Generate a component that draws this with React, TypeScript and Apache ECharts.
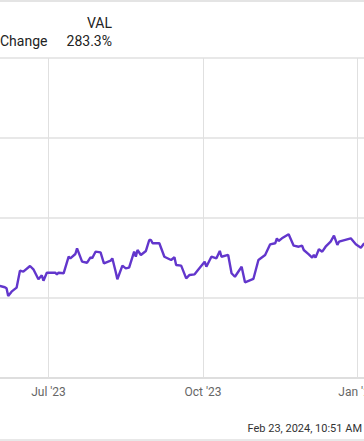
import React, { useEffect, useRef } from "react";
import * as echarts from "echarts";

const dates = [
  "2023-06-02", "2023-06-05", "2023-06-06", "2023-06-07", "2023-06-09", "2023-06-12",
  "2023-06-14", "2023-06-16", "2023-06-20", "2023-06-22", "2023-06-25", "2023-06-27",
  "2023-06-28", "2023-06-30", "2023-07-05", "2023-07-06", "2023-07-07", "2023-07-10",
  "2023-07-13", "2023-07-14", "2023-07-17", "2023-07-18", "2023-07-21", "2023-07-24",
  "2023-07-26", "2023-07-27", "2023-07-29", "2023-08-01", "2023-08-03", "2023-08-07",
  "2023-08-08", "2023-08-10", "2023-08-11", "2023-08-14", "2023-08-16", "2023-08-18",
  "2023-08-21", "2023-08-22", "2023-08-23", "2023-08-25", "2023-08-28", "2023-08-30",
  "2023-08-31", "2023-09-01", "2023-09-05", "2023-09-08", "2023-09-12", "2023-09-14",
  "2023-09-15", "2023-09-18", "2023-09-21", "2023-09-23", "2023-09-26", "2023-09-28",
  "2023-10-02", "2023-10-03", "2023-10-06", "2023-10-09", "2023-10-11", "2023-10-12",
  "2023-10-16", "2023-10-18", "2023-10-20", "2023-10-24", "2023-10-26", "2023-10-31",
  "2023-11-03", "2023-11-07", "2023-11-10", "2023-11-13", "2023-11-14", "2023-11-15",
  "2023-11-17", "2023-11-21", "2023-11-24", "2023-11-27", "2023-11-29", "2023-11-30",
  "2023-12-03", "2023-12-05", "2023-12-06", "2023-12-07", "2023-12-09", "2023-12-11",
  "2023-12-13", "2023-12-16", "2023-12-18", "2023-12-20", "2023-12-21", "2023-12-28",
  "2023-12-31", "2024-01-03", "2024-01-05",
];

const values = [
  215, 213.4, 212.1, 202.5, 207.9, 212.9,
  234.1, 232.9, 240, 235.9, 223.4, 228.4,
  221.6, 231.6, 231.6, 229.6, 231.6, 230.9,
  251.6, 249.6, 255, 262.1, 245.4, 244.1,
  250.9, 249.6, 257.9, 257.1, 243.4, 246.6,
  249.6, 232.9, 223.4, 240.4, 237.1, 237.9,
  257.9, 251.6, 260, 253.8, 258.8, 272.5,
  272.5, 268.4, 268.4, 251.6, 247.5, 250.9,
  241.3, 240.4, 224.6, 228.8, 229.6, 235,
  245.4, 239.1, 251.6, 249.6, 258.8, 251.6,
  253.8, 230.9, 226.6, 239.1, 219.6, 223.8,
  247.5, 253.8, 267.1, 268.4, 274.6, 271.3,
  274.6, 279.6, 265.4, 264.1, 265.4, 260,
  254.6, 250.4, 253.8, 250.4, 261, 257.9,
  264.1, 270.4, 277.9, 266.3, 270.4, 274.6,
  267.1, 262.9, 268.4,
];

const tickDates = ["2023-07-01", "2023-10-01", "2024-01-01"];
const ticker = "VAL";
const changeLabel = "Change";
const changeValue = "283.3%";
const timestamp = "Feb 23, 2024, 10:51 AM";
const monthNames = ["Jan", "Feb", "Mar", "Apr", "May", "Jun", "Jul", "Aug", "Sep", "Oct", "Nov", "Dec"];

const DAY = 86400000;

function parseLocal(s: string) {
  const [y, m, d] = s.split("-").map(Number);
  return new Date(y, m - 1, d).getTime();
}

export default function App() {
  const ref = useRef<HTMLDivElement>(null);
  useEffect(() => {
    if (!ref.current) return;
    const chart = echarts.init(ref.current, undefined, { renderer: "svg" });
    const ticks = tickDates.map(parseLocal);
    const jul1 = ticks[0];
    const pxPerDay = 309 / 184;
    const xMin = jul1 - (48.5 / pxPerDay) * DAY;
    const xMax = jul1 + ((364 - 48.5) / pxPerDay) * DAY;
    const font = "Roboto, 'Noto Sans', sans-serif";
    chart.setOption({
      animation: false,
      grid: { left: 0, right: 0, top: 58, bottom: 63, containLabel: false, outerBoundsMode: "none" },
      xAxis: {
        type: "value",
        min: xMin,
        max: xMax,
        axisLine: { show: true, lineStyle: { color: "#dedede", width: 2 } },
        axisTick: { show: false, customValues: ticks },
        splitLine: { show: true, lineStyle: { color: "#e0e0e0", width: 1 } },
        axisLabel: {
          customValues: ticks,
          color: "#666",
          fontFamily: font,
          fontSize: 12,
          margin: 8,
          hideOverlap: false,
          showMinLabel: true,
          showMaxLabel: true,
          formatter: (v: number) => {
            const d = new Date(v);
            return monthNames[d.getMonth()] + " '" + String(d.getFullYear()).slice(2);
          },
        },
      },
      yAxis: {
        type: "value",
        min: 100,
        max: 500,
        interval: 100,
        axisLine: { show: false },
        axisTick: { show: false },
        axisLabel: { show: false },
        splitLine: { show: true, lineStyle: { color: "#e8e8e8", width: 2 } },
      },
      series: [
        {
          type: "line",
          data: dates.map((d, i) => [parseLocal(d), values[i]]),
          showSymbol: false,
          symbol: "none",
          lineStyle: { color: "#6236cc", width: 2.4 },
          clip: true,
        },
      ],
      graphic: [
        { type: "rect", shape: { x: 0, y: 0, width: 364, height: 2 }, style: { fill: "#e4e4e4" } },
        {
          type: "text",
          x: 112,
          y: 23,
          style: { text: ticker, fill: "#222", font: `14px ${font}`, align: "right", verticalAlign: "middle" },
        },
        {
          type: "text",
          x: 0,
          y: 41,
          style: { text: changeLabel, fill: "#222", font: `14px ${font}`, align: "left", verticalAlign: "middle" },
        },
        {
          type: "text",
          x: 112,
          y: 41,
          style: { text: changeValue, fill: "#222", font: `14px ${font}`, align: "right", verticalAlign: "middle" },
        },
        {
          type: "text",
          x: 362,
          y: 428,
          style: { text: timestamp, fill: "#333", font: `11px ${font}`, align: "right", verticalAlign: "middle" },
        },
        { type: "rect", shape: { x: 0, y: 439, width: 364, height: 2 }, style: { fill: "#e8e8e8" } },
      ],
    });
    return () => chart.dispose();
  }, []);
  return <div ref={ref} style={{ position: "fixed", left: 0, top: 0, width: 364, height: 441, background: "#fff" }} />;
}
